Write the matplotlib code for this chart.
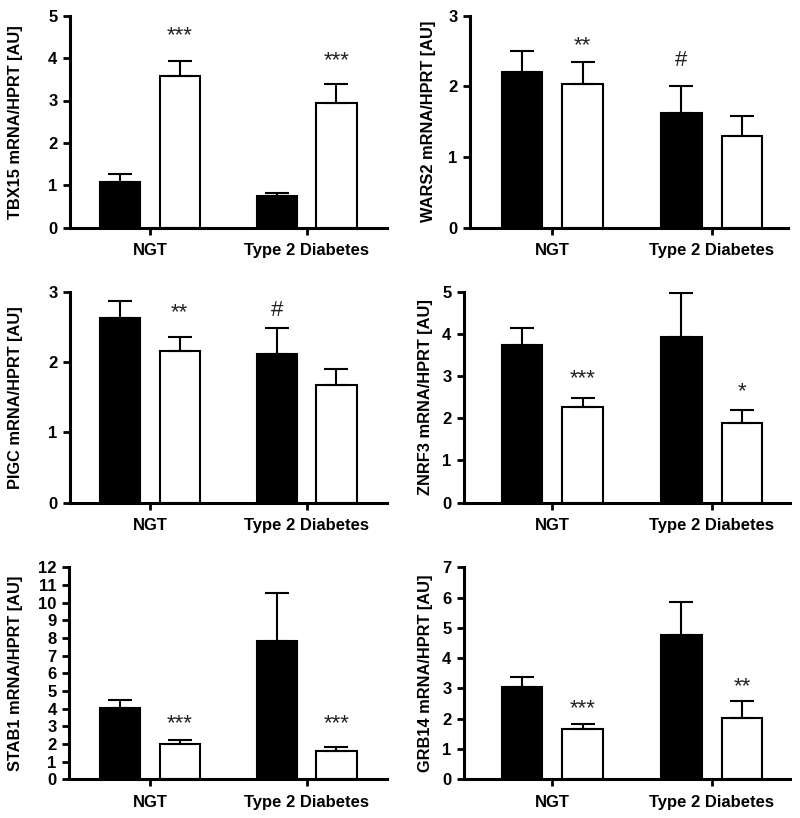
import numpy as np
import matplotlib
matplotlib.use("Agg")
import matplotlib.pyplot as plt

plt.rcParams['font.family'] = ['Liberation Sans', 'DejaVu Sans']

groups = ['NGT', 'Type 2 Diabetes']

# one entry per panel, reading order
genes = ['TBX15', 'WARS2', 'PIGC', 'ZNRF3', 'STAB1', 'GRB14']
ymax = [5, 3, 3, 5, 12, 7]

black_mean = [[1.08, 0.75], [2.20, 1.63], [2.62, 2.11], [3.74, 3.93], [4.02, 7.85], [3.06, 4.77]]
black_top = [[1.27, 0.83], [2.50, 2.01], [2.87, 2.48], [4.15, 4.96], [4.47, 10.57], [3.37, 5.84]]
white_mean = [[3.57, 2.94], [2.03, 1.30], [2.16, 1.67], [2.27, 1.89], [2.00, 1.60], [1.66, 2.04]]
white_top = [[3.92, 3.38], [2.35, 1.58], [2.36, 1.90], [2.48, 2.20], [2.23, 1.83], [1.83, 2.58]]

# significance marks: (group, bar, text, y)
marks = [
    [(0, 'w', '***', 4.54), (1, 'w', '***', 3.93)],
    [(0, 'w', '**', 2.58), (1, 'b', '#', 2.36)],
    [(0, 'w', '**', 2.70), (1, 'b', '#', 2.73)],
    [(0, 'w', '***', 2.95), (1, 'w', '*', 2.63)],
    [(0, 'w', '***', 3.13), (1, 'w', '***', 3.13)],
    [(0, 'w', '***', 2.34), (1, 'w', '**', 3.06)],
]

# axes boxes in pixels: x-axis start, x-axis end, top, bottom, NGT tick x, T2D tick x, ylabel right edge x
boxes = [
    (70, 387, 15.7, 227.7, 150, 306.7, 23),
    (470, 788, 15.7, 227.7, 552.3, 711.7, 436),
    (70, 387, 291.7, 502.7, 150, 306.7, 23),
    (464, 790, 291.7, 502.7, 552.3, 711.7, 433),
    (69, 387, 567.3, 779.3, 150, 306.7, 23),
    (464, 790, 567.3, 779.3, 552.3, 711.7, 433),
]

W, H = 800, 818
fig = plt.figure(figsize=(W / 100, H / 100), dpi=100)

x = np.arange(len(groups))
off = 0.19
bw = 0.256

for i, gene in enumerate(genes):
    x0, x1, yt, yb, t0, t1, lx = boxes[i]
    ax = fig.add_axes([x0 / W, 1 - yb / H, (x1 - x0) / W, (yb - yt) / H])
    sp = t1 - t0
    ax.set_xlim((x0 - t0) / sp, 1 + (x1 - t1) / sp)
    ax.set_ylim(0, ymax[i])

    bm = np.array(black_mean[i])
    wm = np.array(white_mean[i])
    be = np.array(black_top[i]) - bm
    we = np.array(white_top[i]) - wm

    ax.bar(x - off, bm, bw, color='black', edgecolor='black', linewidth=1.5, zorder=2)
    ax.bar(x + off, wm, bw, color='white', edgecolor='black', linewidth=1.5, zorder=2)
    ax.errorbar(x - off, bm, yerr=[np.zeros(2), be], fmt='none', ecolor='black',
                elinewidth=1.5, capsize=8.5, capthick=1.5, zorder=3)
    ax.errorbar(x + off, wm, yerr=[np.zeros(2), we], fmt='none', ecolor='black',
                elinewidth=1.5, capsize=8.5, capthick=1.5, zorder=3)

    for g, which, txt, yy in marks[i]:
        xx = g + off if which == 'w' else g - off
        ax.text(xx, yy, txt, ha='center', va='center', fontsize=16, color='#222222')

    ax.spines['top'].set_visible(False)
    ax.spines['right'].set_visible(False)
    ax.spines['left'].set_linewidth(2.2)
    ax.spines['bottom'].set_linewidth(2.2)
    ax.set_yticks(range(0, ymax[i] + 1))
    ax.set_xticks(x)
    ax.set_xticklabels(groups)
    ax.tick_params(axis='y', direction='out', length=5, width=2, labelsize=12, pad=4)
    ax.tick_params(axis='x', direction='out', length=5, width=2, labelsize=12, pad=6)
    for lab in ax.get_xticklabels() + ax.get_yticklabels():
        lab.set_fontweight('bold')
    ax.set_ylabel(gene + ' mRNA/HPRT [AU]', fontsize=11.8, fontweight='bold')
    ax.yaxis.set_label_coords((lx - x0) / (x1 - x0), 0.5)

fig.savefig('out.png', dpi=100)
